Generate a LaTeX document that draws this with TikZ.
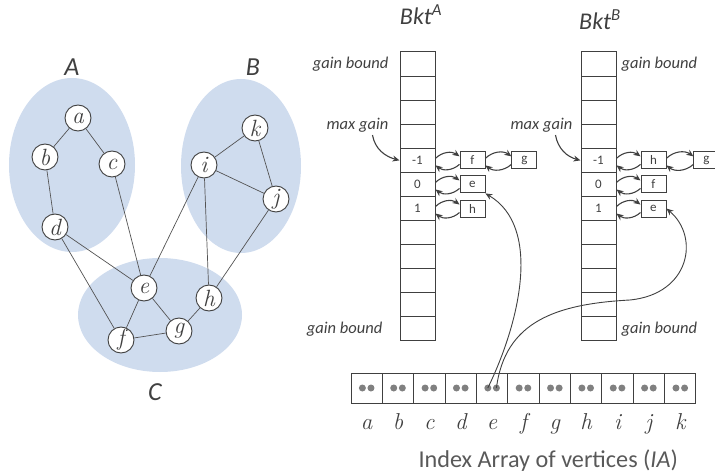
\documentclass[tikz,border=0pt]{standalone}
\usepackage{amsmath}
\usepackage{fontspec}
\setsansfont{Carlito}
\usetikzlibrary{positioning,arrows.meta}

\definecolor{setblue}{RGB}{207,220,238}
\definecolor{ink}{RGB}{64,64,64}
\definecolor{dotgray}{RGB}{128,128,128}
\definecolor{txtgray}{RGB}{89,89,89}

\tikzset{
  vtx/.style={circle,draw=ink,fill=white,line width=0.9pt,minimum size=26pt,inner sep=0pt,
    text=ink,font=\rmfamily\itshape\fontsize{23.5}{23.5}\selectfont},
  edge/.style={draw=ink!90,line width=0.7pt},
  setname/.style={text=ink,font=\sffamily\itshape\fontsize{26}{26}\selectfont},
  slot/.style={draw=ink,line width=1pt,minimum width=35pt,minimum height=24.08pt,inner sep=0pt,
    text=ink,font=\sffamily\fontsize{13}{13}\selectfont},
  item/.style={draw=ink,line width=0.9pt,minimum width=25pt,minimum height=17pt,inner sep=0pt,
    text=ink,font=\sffamily\fontsize{13}{13}\selectfont},
  iacell/.style={draw=ink,line width=1pt,minimum width=31.36pt,minimum height=30pt,inner sep=0pt},
  dot/.style={circle,fill=dotgray,minimum size=7pt,inner sep=0pt},
  note/.style={text=ink,font=\sffamily\itshape\fontsize{16.5}{16.5}\selectfont,inner sep=0pt},
  bkt/.style={text=ink,font=\sffamily\itshape\fontsize{24}{24}\selectfont,inner sep=0pt},
  lnk/.style={draw=ink,line width=1.1pt,-{Stealth[length=7pt,width=6pt]}},
}

\begin{document}
\begin{tikzpicture}[x=1pt,y=1pt]
\useasboundingbox (0,0) rectangle (715,472);

% the three parts of the graph
\fill[setblue] (72,307) ellipse [x radius=63,y radius=87];
\fill[setblue] (241,306) ellipse [x radius=60,y radius=87];
\fill[setblue] (160,157) ellipse [x radius=82,y radius=57];
\node[setname] (partA) at (72,405) {A};
\node[setname] (partB) at (253,405) {B};
\node[setname] (partC) at (155,80) {C};

% vertices
\node[vtx] (a) at (78,354) {a};
\node[vtx] (b) at (45,315) {b};
\node[vtx] (c) at (112,308) {c};
\node[vtx] (d) at (55,245) {d};
\node[vtx] (k) at (255,344) {k};
\node[vtx] (i) at (204,307) {i};
\node[vtx] (j) at (276,273) {j};
\node[vtx] (e) at (144,184) {e};
\node[vtx] (h) at (209,174) {h};
\node[vtx] (g) at (179,141) {g};
\node[vtx] (f) at (121,132) {f};
\foreach \u/\v in {a/b,a/c,b/d,c/e,d/e,d/f,k/i,i/j,k/j,i/e,i/h,j/h,e/f,e/g,f/g,g/h}
  \draw[edge] (\u) -- (\v);

% the two bucket arrays
\foreach \s/\x in {A/417.5,B/598.5}
  \foreach \n/\t in {1/{},2/{},3/{},4/{},5/-1,6/0,7/1,8/{},9/{},10/{},11/{},12/{}}
    \node[slot] (b\s\n) at (\x,{420-24.08*(\n-0.5)}) {\t};
\node[bkt,anchor=base] (bktA) at (421,447) {Bkt\textsuperscript{A}};
\node[bkt,anchor=base] (bktB) at (600,442) {Bkt\textsuperscript{B}};

\node[note,left=11pt of bA1] (gbA1) {gain bound};
\node[note,left=17pt of bA12] (gbA2) {gain bound};
\node[note,right=5pt of bB1] (gbB1) {gain bound};
\node[note,right=5pt of bB12] (gbB2) {gain bound};
\node[note,left=11pt of bA3.south west] (mgA) {max gain};
\node[note,left=8pt of bB3.south west] (mgB) {max gain};
\draw[lnk] ([xshift=15pt,yshift=-3pt]mgA.south) to[out=-80,in=165] (bA5.west);
\draw[lnk] ([xshift=14pt,yshift=-3pt]mgB.south) to[out=-80,in=165] (bB5.west);

% vertex lists hanging off the buckets
\node[item,right=24pt of bA5] (fA) {f};
\node[item,right=26pt of fA] (gA) {g};
\node[item,right=24pt of bA6] (eA) {e};
\node[item,right=24pt of bA7] (hA) {h};
\node[item,right=24pt of bB5] (hB) {h};
\node[item,right=27pt of hB] (gB) {g};
\node[item,right=24pt of bB6] (fB) {f};
\node[item,right=24pt of bB7] (eB) {e};
\foreach \p/\q in {bA5/fA,fA/gA,bA6/eA,bA7/hA,bB5/hB,hB/gB,bB6/fB,bB7/eB}
{
  \draw[lnk] ([yshift=2pt]\p.east) to[bend left=40] ([yshift=4pt]\q.west);
  \draw[lnk] ([yshift=-4pt]\q.west) to[bend left=40] ([yshift=-5pt]\p.east);
}

% index array
\foreach \v [count=\n] in {a,...,k}
{
  \node[iacell] (ia\v) at ({351+31.36*(\n-0.5)},84) {};
  \node[dot] (ia\v-l) at ([xshift=-4.3pt]ia\v.center) {};
  \node[dot] (ia\v-r) at ([xshift=4.3pt]ia\v.center) {};
  \node[anchor=base,text=ink,font=\rmfamily\itshape\fontsize{23}{23}\selectfont] (lbl\v) at (ia\v |- 0,43) {\v};
}
\node[anchor=base west,text=txtgray,font=\sffamily\fontsize{24.2}{24.2}\selectfont] (iatitle) at (415,5)
  {Index Array of vertices (\textit{IA})};

\draw[lnk,line width=0.9pt] (iae-l.center) .. controls (520,150) and (542,245) .. (eA.south east);
\draw[lnk,line width=0.9pt] (iae-r.center) .. controls (505,150) and (555,168) .. (630,172)
  .. controls (690,178) and (700,235) .. (eB.east);
\end{tikzpicture}
\end{document}
